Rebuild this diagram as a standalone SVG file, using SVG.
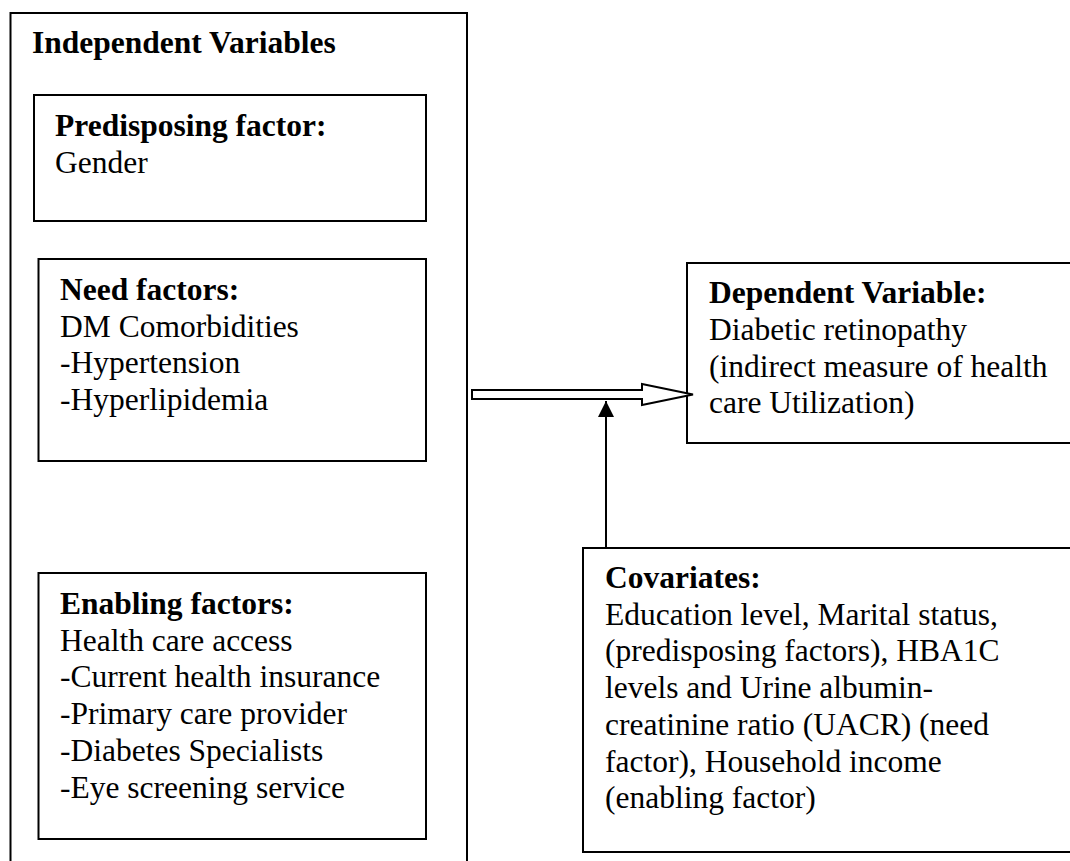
<svg xmlns="http://www.w3.org/2000/svg" width="1070" height="861" viewBox="0 0 1070 861">
  <style>
    .box { fill: none; stroke: #000; stroke-width: 2; }
    .t { font-family: "Liberation Serif", "Times New Roman", serif; font-size: 31.5px; fill: #000; }
    .b { font-weight: bold; }
    .conn { stroke: #000; stroke-width: 2; }
  </style>
  <defs>
    <marker id="tri2" viewBox="0 0 16 16" refX="16" refY="8" markerWidth="16" markerHeight="16" markerUnits="userSpaceOnUse" orient="auto">
      <path d="M0,0 L16,8 L0,16 Z" fill="#000"/>
    </marker>
  </defs>
  <rect width="1070" height="861" fill="#fff"/>

  <g id="independent">
    <path class="box" d="M10.5,862 V13 H467 V862"/>
    <text class="t b" x="32" y="53">Independent Variables</text>
  </g>

  <g id="predisposing">
    <rect class="box" x="34" y="95" width="392" height="126"/>
    <text class="t b" x="55" y="136">Predisposing factor:</text>
    <text class="t" x="55" y="172.7">Gender</text>
  </g>

  <g id="need">
    <rect class="box" x="38.5" y="259" width="387.5" height="202"/>
    <text class="t b" x="60" y="300">Need factors:</text>
    <text class="t" x="60" y="336.7">DM Comorbidities</text>
    <text class="t" x="60" y="373.4">-Hypertension</text>
    <text class="t" x="60" y="410">-Hyperlipidemia</text>
  </g>

  <g id="enabling">
    <rect class="box" x="38.5" y="573" width="387.5" height="266"/>
    <text class="t b" x="60" y="614">Enabling factors:</text>
    <text class="t" x="60" y="650.7">Health care access</text>
    <text class="t" x="60" y="687.4">-Current health insurance</text>
    <text class="t" x="60" y="724.1">-Primary care provider</text>
    <text class="t" x="60" y="760.8">-Diabetes Specialists</text>
    <text class="t" x="60" y="797.5">-Eye screening service</text>
  </g>

  <g id="dependent">
    <rect class="box" x="687" y="263" width="400" height="180"/>
    <text class="t b" x="709" y="303.3">Dependent Variable:</text>
    <text class="t" x="709" y="340">Diabetic retinopathy</text>
    <text class="t" x="709" y="376.7">(indirect measure of health</text>
    <text class="t" x="709" y="413.4">care Utilization)</text>
  </g>

  <g id="covariates">
    <rect class="box" x="583" y="548" width="500" height="304"/>
    <text class="t b" x="605" y="588">Covariates:</text>
    <text class="t" x="605" y="624.7">Education level, Marital status,</text>
    <text class="t" x="605" y="661.4">(predisposing factors), HBA1C</text>
    <text class="t" x="605" y="698.1">levels and Urine albumin-</text>
    <text class="t" x="605" y="734.8">creatinine ratio (UACR) (need</text>
    <text class="t" x="605" y="771.5">factor), Household income</text>
    <text class="t" x="605" y="808.2">(enabling factor)</text>
  </g>

  <g id="connectors">
    <polygon points="472,390 642,390 642,384 693,394.5 642,405 642,399 472,399" fill="#fff" stroke="#000" stroke-width="2" stroke-linejoin="miter"/>
    <line class="conn" x1="606" y1="548" x2="606" y2="401" marker-end="url(#tri2)"/>
  </g>
</svg>
